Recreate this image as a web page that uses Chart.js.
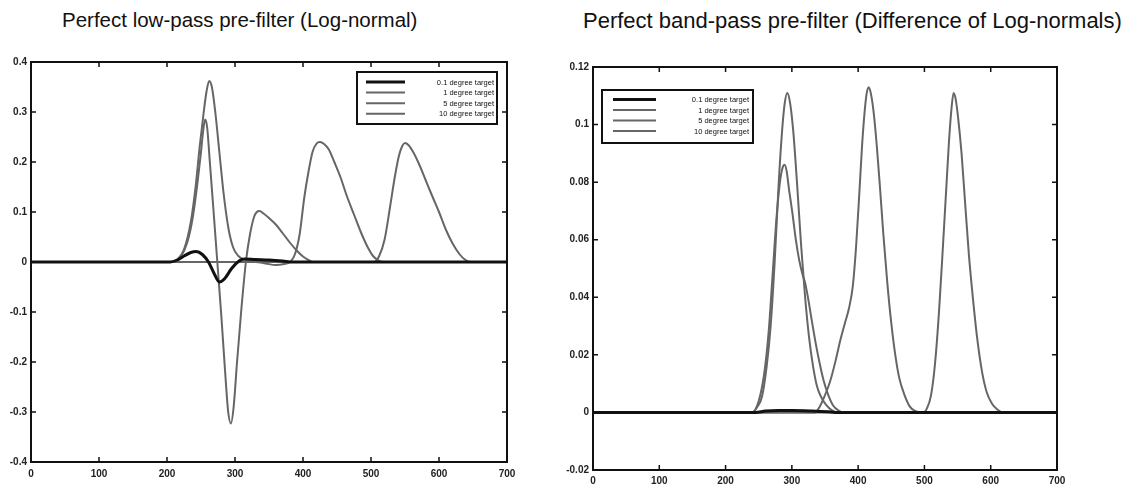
<!DOCTYPE html>
<html>
<head>
<meta charset="utf-8">
<title>Pre-filter responses</title>
<script src="https://cdn.jsdelivr.net/npm/chart.js@4.4.1/dist/chart.umd.min.js"></script>
<style>
  html, body { margin: 0; padding: 0; background: #fff; }
  body { width: 1136px; height: 487px; position: relative; overflow: hidden;
         font-family: "Liberation Sans", Arial, Helvetica, sans-serif; }
  .ttl  { position: absolute; color: #111; white-space: nowrap; }
  .pane { position: absolute; top: 0; height: 487px; }
</style>
</head>
<body>
<div class="ttl" style="left:62px;top:8px;font-size:20.5px">Perfect low-pass pre-filter (Log-normal)</div>
<div class="ttl" style="left:583px;top:8px;font-size:22px">Perfect band-pass pre-filter (Difference of Log-normals)</div>
<div class="pane" style="left:0;width:560px"><canvas id="lpChart"></canvas></div>
<div class="pane" style="left:560px;width:576px"><canvas id="bpChart"></canvas></div>

<script>
/* ---------- legend labels ---------- */
const targetLabels = ['0.1 degree target', '1 degree target', '5 degree target', '10 degree target'];

/* ---------- low-pass (log-normal) responses ---------- */
const lpX01 = [0, 205, 215, 225, 235, 243, 252, 261, 270, 277, 285, 295, 306, 314, 330, 350, 370, 385, 700];
const lpY01 = [0, 0, 0.004, 0.012, 0.019, 0.021, 0.015, 0, -0.025, -0.04, -0.033, -0.013, 0.002, 0.006, 0.005, 0.004, 0.002, 0, 0];

const lpX1 = [0, 205, 215, 225, 235, 242, 248, 254, 258, 262, 266, 271, 277, 283, 290, 297, 305, 312, 320, 330, 360, 380, 700];
const lpY1 = [0, 0, 0.005, 0.025, 0.08, 0.15, 0.23, 0.3, 0.34, 0.362, 0.35, 0.3, 0.22, 0.14, 0.07, 0.03, 0.012, 0.006, 0.004, 0.003, 0.001, 0, 0];

const lpX5 = [0, 330, 345, 360, 372, 381, 388, 395, 402, 408, 414, 420, 425, 431, 438, 446, 455, 465, 475, 485, 495, 503, 510, 518, 700];
const lpY5 = [0, 0, -0.003, -0.006, -0.004, 0, 0.015, 0.055, 0.13, 0.18, 0.22, 0.237, 0.24, 0.236, 0.225, 0.2, 0.17, 0.13, 0.095, 0.06, 0.03, 0.012, 0.004, 0, 0];

const lpX10 = [0, 505, 512, 520, 528, 535, 541, 546, 550, 555, 562, 570, 580, 590, 600, 610, 620, 630, 638, 646, 700];
const lpY10 = [0, 0, 0.012, 0.045, 0.11, 0.17, 0.212, 0.232, 0.238, 0.234, 0.22, 0.198, 0.165, 0.132, 0.1, 0.065, 0.037, 0.016, 0.005, 0, 0];

// biphasic trace with no legend entry
const lpXb = [0, 210, 220, 230, 238, 245, 250, 253, 256, 259, 263, 268, 274, 280, 286, 290, 294, 298, 303, 309, 316, 322, 328, 332, 336, 342, 350, 360, 370, 380, 390, 400, 408, 415, 700];
const lpYb = [0, 0, 0.01, 0.04, 0.09, 0.16, 0.22, 0.26, 0.285, 0.27, 0.2, 0.11, 0, -0.11, -0.23, -0.3, -0.323, -0.29, -0.2, -0.1, 0, 0.055, 0.09, 0.1, 0.102, 0.097, 0.088, 0.075, 0.058, 0.04, 0.024, 0.011, 0.004, 0, 0];

/* ---------- band-pass (difference of log-normals) responses ---------- */
const bpX01 = [0, 245, 260, 280, 300, 330, 355, 365, 700];
const bpY01 = [0, 0, 0.0005, 0.0007, 0.0007, 0.0005, 0.0002, 0, 0];

const bpX1 = [0, 240, 248, 255, 262, 268, 274, 280, 285, 289, 293, 297, 302, 308, 314, 320, 326, 332, 338, 345, 352, 360, 368, 700];
const bpY1 = [0, 0, 0.002, 0.0055, 0.016, 0.03, 0.052, 0.079, 0.097, 0.107, 0.111, 0.108, 0.098, 0.079, 0.058, 0.04, 0.026, 0.016, 0.009, 0.005, 0.0025, 0.0008, 0, 0];

const bpX5 = [0, 335, 342, 350, 358, 366, 373, 380, 386, 392, 397, 402, 406, 410, 413, 416, 419, 423, 428, 433, 438, 444, 450, 456, 462, 470, 478, 486, 494, 700];
const bpY5 = [0, 0, 0.002, 0.006, 0.011, 0.018, 0.025, 0.031, 0.036, 0.044, 0.058, 0.077, 0.093, 0.105, 0.111, 0.113, 0.111, 0.105, 0.093, 0.078, 0.062, 0.045, 0.031, 0.02, 0.012, 0.006, 0.002, 0.0005, 0, 0];

const bpX10 = [0, 498, 504, 510, 516, 522, 528, 533, 537, 541, 544, 547, 551, 556, 561, 567, 573, 580, 587, 594, 602, 610, 618, 700];
const bpY10 = [0, 0, 0.0015, 0.006, 0.017, 0.035, 0.058, 0.078, 0.094, 0.106, 0.111, 0.109, 0.102, 0.09, 0.074, 0.055, 0.04, 0.025, 0.014, 0.007, 0.003, 0.001, 0, 0];

// shouldered trace with no legend entry
const bpXs = [0, 240, 250, 258, 265, 271, 277, 282, 286, 289, 292, 296, 301, 306, 311, 316, 320, 325, 330, 336, 342, 348, 355, 362, 370, 378, 700];
const bpYs = [0, 0, 0.004, 0.013, 0.028, 0.048, 0.068, 0.08, 0.085, 0.086, 0.084, 0.077, 0.069, 0.06, 0.053, 0.048, 0.045, 0.039, 0.032, 0.024, 0.017, 0.011, 0.006, 0.0025, 0.0007, 0, 0];

/* ---------- axis ticks ---------- */
const xTicks   = [0, 100, 200, 300, 400, 500, 600, 700];
const lpYTicks = [-0.4, -0.3, -0.2, -0.1, 0, 0.1, 0.2, 0.3, 0.4];
const bpYTicks = [-0.02, 0, 0.02, 0.04, 0.06, 0.08, 0.1, 0.12];

const INK  = '#111';
const GREY = '#666';

const pts = (xs, ys) => xs.map((x, i) => ({ x, y: ys[i] }));

function trace(label, xs, ys, thick) {
  return {
    label, data: pts(xs, ys),
    borderColor: thick ? INK : GREY,
    borderWidth: thick ? 3 : 2,
    showLine: true, pointRadius: 0,
    cubicInterpolationMode: 'monotone'
  };
}

// box around the plot plus MATLAB-style inward ticks on all four sides
const frameTicks = {
  id: 'frameTicks',
  afterDatasetsDraw(chart) {
    const { ctx, chartArea: a, scales: { x, y } } = chart;
    ctx.save();
    ctx.strokeStyle = INK;
    ctx.lineWidth = 2;
    ctx.strokeRect(a.left, a.top, a.right - a.left, a.bottom - a.top);
    ctx.lineWidth = 1.5;
    ctx.beginPath();
    x.ticks.forEach(t => {
      const px = x.getPixelForValue(t.value);
      ctx.moveTo(px, a.bottom); ctx.lineTo(px, a.bottom - 5);
      ctx.moveTo(px, a.top);    ctx.lineTo(px, a.top + 5);
    });
    y.ticks.forEach(t => {
      const py = y.getPixelForValue(t.value);
      ctx.moveTo(a.left, py);  ctx.lineTo(a.left + 5, py);
      ctx.moveTo(a.right, py); ctx.lineTo(a.right - 5, py);
    });
    ctx.stroke();
    ctx.restore();
  }
};

// boxed legend sitting inside the plot area
const boxLegend = {
  id: 'boxLegend',
  afterDatasetsDraw(chart, args, o) {
    const { ctx, chartArea: a } = chart;
    const bx = a.left + o.dx, by = a.top + o.dy;
    ctx.save();
    ctx.fillStyle = '#fff';
    ctx.fillRect(bx, by, o.w, o.h);
    ctx.strokeStyle = INK;
    ctx.lineWidth = 2;
    ctx.strokeRect(bx, by, o.w, o.h);
    ctx.font = '7.5px "Liberation Sans", Arial, sans-serif';
    ctx.textAlign = 'right';
    ctx.textBaseline = 'middle';
    chart.data.datasets.filter(d => d.label).forEach((d, i) => {
      const ry = by + o.row0 + i * o.rowH;
      ctx.strokeStyle = d.borderColor;
      ctx.lineWidth = d.borderWidth;
      ctx.beginPath();
      ctx.moveTo(bx + o.s0, ry); ctx.lineTo(bx + o.s1, ry);
      ctx.stroke();
      ctx.fillStyle = INK;
      ctx.fillText(d.label, bx + o.w - o.tr, ry + 0.5);
    });
    ctx.restore();
  }
};

const tickFont = { family: '"Liberation Sans", Arial, sans-serif', size: 10, weight: 'bold' };
const fmt = v => String(+v.toFixed(2));

function makeChart(id, datasets, yMin, yMax, yTicks, lay, legend) {
  return new Chart(document.getElementById(id), {
    type: 'scatter',
    data: { datasets },
    plugins: [frameTicks, boxLegend],
    options: {
      responsive: true, maintainAspectRatio: false, animation: false,
      layout: { padding: { top: lay.top, right: lay.right, left: 0, bottom: 0 } },
      plugins: { legend: { display: false }, tooltip: { enabled: false }, boxLegend: legend },
      scales: {
        x: {
          type: 'linear', min: 0, max: 700,
          afterBuildTicks: s => { s.ticks = xTicks.map(v => ({ value: v })); },
          afterFit: s => { s.height = lay.xh; },
          grid: { display: false, drawTicks: false }, border: { display: false },
          ticks: { color: '#222', font: tickFont, padding: lay.xpad, callback: fmt, maxRotation: 0 }
        },
        y: {
          type: 'linear', min: yMin, max: yMax,
          afterBuildTicks: s => { s.ticks = yTicks.map(v => ({ value: v })); },
          afterFit: s => { s.width = lay.yw; },
          grid: { display: false, drawTicks: false }, border: { display: false },
          ticks: { color: '#222', font: tickFont, padding: 4, callback: fmt }
        }
      }
    }
  });
}

makeChart('lpChart', [
  trace(targetLabels[0], lpX01, lpY01, true),
  trace(targetLabels[1], lpX1, lpY1),
  trace(targetLabels[2], lpX5, lpY5),
  trace(targetLabels[3], lpX10, lpY10),
  trace('', lpXb, lpYb)
], -0.4, 0.4, lpYTicks,
  { top: 62, right: 53, yw: 31, xh: 25, xpad: 6 },
  { dx: 326, dy: 10, w: 140, h: 52, row0: 10, rowH: 10.6, s0: 9, s1: 48, tr: 3 });

makeChart('bpChart', [
  trace(targetLabels[0], bpX01, bpY01, true),
  trace(targetLabels[1], bpX1, bpY1),
  trace(targetLabels[2], bpX5, bpY5),
  trace(targetLabels[3], bpX10, bpY10),
  trace('', bpXs, bpYs)
], -0.02, 0.12, bpYTicks,
  { top: 67, right: 79, yw: 33, xh: 17, xpad: 5 },
  { dx: 9, dy: 23, w: 151, h: 53, row0: 9.5, rowH: 10.5, s0: 11, s1: 54, tr: 4 });
</script>
</body>
</html>
